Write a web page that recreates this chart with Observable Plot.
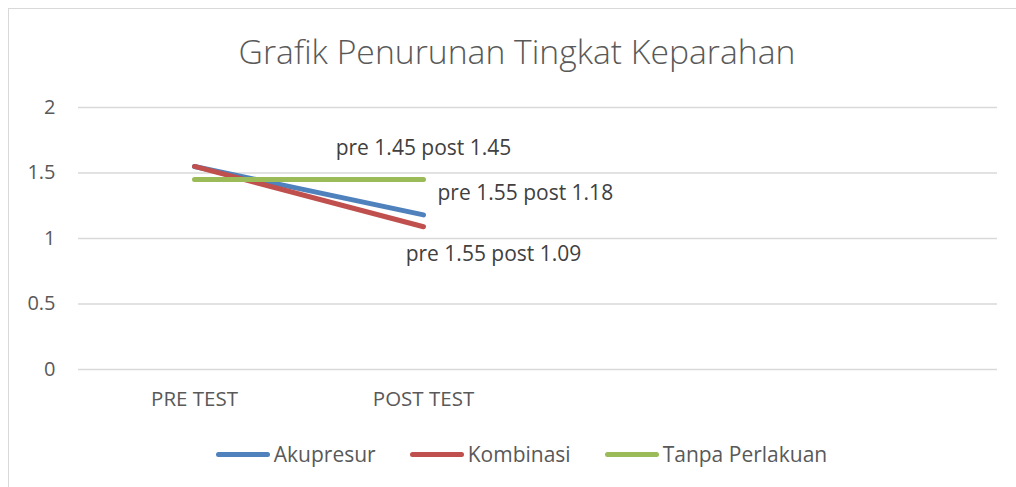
<!DOCTYPE html>
<html><head><meta charset="utf-8">
<script src="https://cdn.jsdelivr.net/npm/d3@7"></script>
<script src="https://cdn.jsdelivr.net/npm/@observablehq/plot@0.6"></script>
<style>
body{margin:0;background:#fff;font-family:"Open Sans", Lato, sans-serif;}
#chart{position:relative;width:1016px;height:487px;overflow:hidden;background:#fff;}
#frame{position:absolute;left:8px;top:8px;width:1100px;height:600px;border-top:1.5px solid #d9d9d9;border-left:1.5px solid #d9d9d9;}
#title{position:absolute;top:29px;left:9px;width:1016px;text-align:center;font-size:33.7px;line-height:44px;color:#595959;font-weight:300;}
#plot{position:absolute;top:90px;left:0;}
#legend{position:absolute;top:439px;left:0;width:1016px;height:30px;display:flex;justify-content:center;align-items:center;padding-left:27px;box-sizing:border-box;font-size:21px;color:#595959;}
.item{display:flex;align-items:center;margin:0 17px;}
.sw{width:54px;height:5px;border-radius:3px;margin-right:4px;}
</style></head>
<body>
<div id="chart">
  <div id="frame"></div>
  <div id="title"></div>
  <div id="plot"></div>
  <div id="legend"></div>
</div>
<script>
const titleText = "Grafik Penurunan Tingkat Keparahan";
const categories = ["PRE TEST", "POST TEST"];
const emptySlots = ["_slot3", "_slot4"];
const series = ["Akupresur", "Kombinasi", "Tanpa Perlakuan"];
const akupresur = [1.55, 1.18];
const kombinasi = [1.55, 1.09];
const tanpaPerlakuan = [1.45, 1.45];
const pointLabels = ["pre 1.55 post 1.18", "pre 1.55 post 1.09", "pre 1.45 post 1.45"];
const yTicks = [0, 0.5, 1, 1.5, 2];
const colors = ["#4F81BD", "#C0504D", "#9BBB59"];

const seriesValues = [akupresur, kombinasi, tanpaPerlakuan];
const rows = [];
series.forEach((s, i) => categories.forEach((c, j) => rows.push({series: s, cat: c, value: seriesValues[i][j]})));
const labelRows = series.map((s, i) => ({series: s, cat: categories[1], value: seriesValues[i][1], label: pointLabels[i]}));

document.getElementById("title").textContent = titleText;

const font = "'Open Sans', Lato, sans-serif";
const chart = Plot.plot({
  width: 1016,
  height: 340,
  marginTop: 17,
  marginBottom: 61,
  marginLeft: 78,
  marginRight: 19,
  style: {fontFamily: font, fontSize: "20px", color: "#595959", background: "transparent"},
  x: {type: "point", domain: [...categories, ...emptySlots], padding: 0.5, label: null},
  y: {domain: [0, 2], label: null},
  color: {domain: series, range: colors},
  marks: [
    Plot.ruleY(yTicks, {stroke: "#d9d9d9", strokeWidth: 1.5}),
    Plot.axisY({ticks: yTicks, tickSize: 0, tickPadding: 23, tickFormat: d => String(d), fontSize: 20, fill: "#595959", label: null}),
    Plot.axisX({ticks: categories, tickSize: 0, tickPadding: 22, fontSize: 20.5, fill: "#595959", label: null}),
    Plot.line(rows, {x: "cat", y: "value", z: "series", stroke: "series", strokeWidth: 5, strokeLinecap: "round"}),
    Plot.text(labelRows.filter(d => d.series === "Tanpa Perlakuan"), {x: "cat", y: "value", text: "label", dy: -31, textAnchor: "middle", fontSize: 21, fill: "#404040"}),
    Plot.text(labelRows.filter(d => d.series === "Akupresur"), {x: "cat", y: "value", text: "label", dx: 14, dy: -22, textAnchor: "start", fontSize: 21, fill: "#404040"}),
    Plot.text(labelRows.filter(d => d.series === "Kombinasi"), {x: "cat", y: "value", text: "label", dx: 70, dy: 28, textAnchor: "middle", fontSize: 21, fill: "#404040"})
  ]
});
document.getElementById("plot").appendChild(chart);

const legend = document.getElementById("legend");
series.forEach((s, i) => {
  const item = document.createElement("div");
  item.className = "item";
  const sw = document.createElement("span");
  sw.className = "sw";
  sw.style.background = colors[i];
  const t = document.createElement("span");
  t.textContent = s;
  item.appendChild(sw);
  item.appendChild(t);
  legend.appendChild(item);
});
</script>
</body></html>
